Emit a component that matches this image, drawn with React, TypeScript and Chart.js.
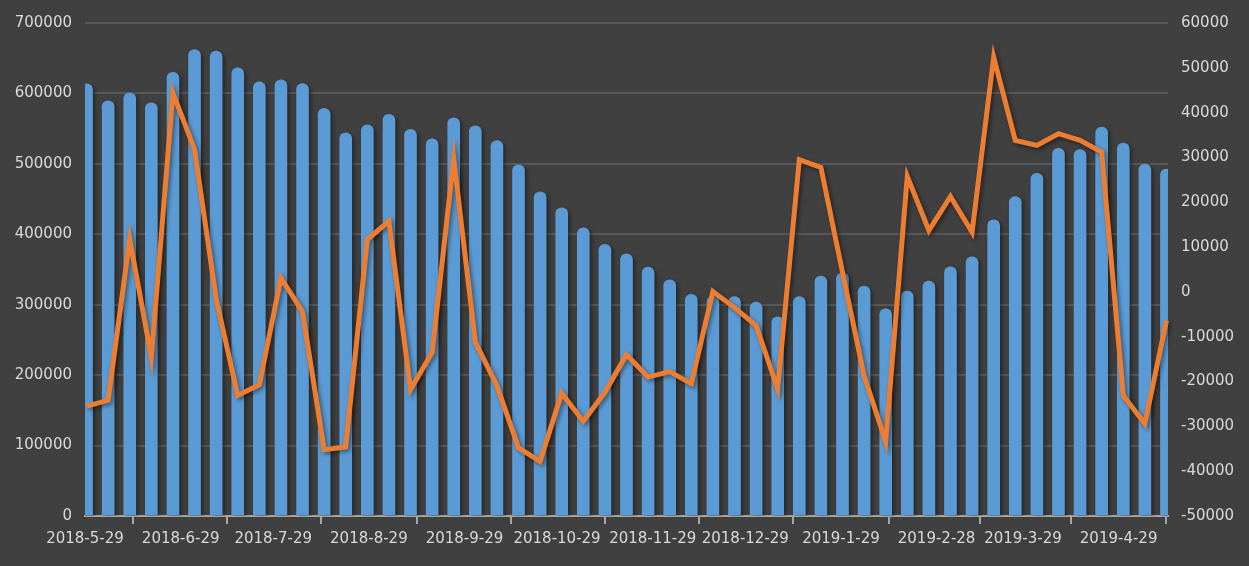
import React, { useEffect, useRef } from "react";
import { Chart, registerables } from "chart.js";

Chart.register(...registerables);

const dates: string[] = [
  "2018-5-29", "2018-6-5", "2018-6-12", "2018-6-19", "2018-6-26",
  "2018-7-3", "2018-7-10", "2018-7-17", "2018-7-24", "2018-7-31",
  "2018-8-7", "2018-8-14", "2018-8-21", "2018-8-28", "2018-9-4",
  "2018-9-11", "2018-9-18", "2018-9-25", "2018-10-2", "2018-10-9",
  "2018-10-16", "2018-10-23", "2018-10-30", "2018-11-6", "2018-11-13",
  "2018-11-20", "2018-11-27", "2018-12-4", "2018-12-11", "2018-12-18",
  "2018-12-25", "2019-1-1", "2019-1-8", "2019-1-15", "2019-1-22",
  "2019-1-29", "2019-2-5", "2019-2-12", "2019-2-19", "2019-2-26",
  "2019-3-5", "2019-3-12", "2019-3-19", "2019-3-26", "2019-4-2",
  "2019-4-9", "2019-4-16", "2019-4-23", "2019-4-30", "2019-5-7",
  "2019-5-14",
];

const barValues: number[] = [
  613700, 589500, 600900, 586700, 630100, 662400, 660000, 636400, 616500, 619300,
  614100, 579000, 544000, 555400, 570500, 549200, 535600, 565400, 554000, 533100,
  498600, 460300, 437600, 409200, 385900, 372300, 353300, 335300, 314900, 312000,
  311700, 303600, 282800, 311700, 340500, 345300, 326300, 294200, 319200, 333400,
  353800, 368000, 420500, 453600, 486700, 522200, 520400, 552100, 529400, 499600,
  492500,
];

const lineValues: number[] = [
  -25500, -24200, 11800, -14600, 44400, 31800, -1500, -23100, -20700, 3100,
  -4400, -35200, -34600, 11700, 15800, -21800, -13500, 29700, -11200, -20900,
  -34800, -37800, -22600, -28900, -22400, -14000, -19000, -17800, -20500, 100,
  -3500, -7500, -21600, 29500, 27800, 4400, -18700, -33400, 25800, 13700,
  21300, 13300, 52400, 33800, 32700, 35300, 33800, 31200, -23100, -29400,
  -6400,
];

const tickLabels: string[] = [
  "2018-5-29", "2018-6-29", "2018-7-29", "2018-8-29", "2018-9-29", "2018-10-29",
  "2018-11-29", "2018-12-29", "2019-1-29", "2019-2-28", "2019-3-29", "2019-4-29",
];
// Excel places the "2-28" month step at the rolled-over Feb 29 (= Mar 1)
const tickDates: string[] = [
  "2018-5-29", "2018-6-29", "2018-7-29", "2018-8-29", "2018-9-29", "2018-10-29",
  "2018-11-29", "2018-12-29", "2019-1-29", "2019-2-29", "2019-3-29", "2019-4-29",
];

const leftMin = 0;
const leftMax = 700000;
const leftStep = 100000;
const rightMin = -50000;
const rightMax = 60000;
const rightStep = 10000;

const DAY = 86400000;
function dayNum(s: string): number {
  const [y, m, d] = s.split("-").map(Number);
  return Date.UTC(y, m - 1, d) / DAY;
}

export default function App() {
  const ref = useRef<HTMLCanvasElement | null>(null);

  useEffect(() => {
    const canvas = ref.current;
    if (!canvas) return;
    const origin = dayNum(dates[0]);
    const xs = dates.map((d) => dayNum(d) - origin + 0.5);
    const xMax = dayNum(dates[dates.length - 1]) - origin + 1;
    const tickPos = tickDates.map((d) => dayNum(d) - origin);
    const labelMap = new Map<number, string>();
    tickPos.forEach((p, i) => labelMap.set(p, tickLabels[i]));

    const font = { family: "'DejaVu Sans', sans-serif", size: 15 };
    const textColor = "#d9d9d9";

    const shadowPlugin = {
      id: "shadow",
      beforeDatasetDraw(chart: any) {
        const ctx = chart.ctx;
        ctx.save();
        ctx.shadowColor = "rgba(0,0,0,0.45)";
        ctx.shadowBlur = 4;
        ctx.shadowOffsetX = 2;
        ctx.shadowOffsetY = 2;
      },
      afterDatasetDraw(chart: any) {
        chart.ctx.restore();
      },
    };

    const bgPlugin = {
      id: "bg",
      beforeDraw(chart: any) {
        const ctx = chart.ctx;
        ctx.save();
        ctx.fillStyle = "#404040";
        ctx.fillRect(0, 0, chart.width, chart.height);
        ctx.restore();
      },
    };

    const chart = new Chart(canvas, {
      type: "bar",
      data: {
        datasets: [
          {
            type: "line",
            label: "line",
            data: xs.map((x, i) => ({ x, y: lineValues[i] })),
            yAxisID: "y1",
            xAxisID: "x",
            borderColor: "#ED7D31",
            backgroundColor: "#ED7D31",
            borderWidth: 5,
            pointRadius: 0,
            tension: 0,
            order: 0,
            clip: false as any,
          } as any,
          {
            type: "bar",
            label: "bar",
            data: xs.map((x, i) => ({ x, y: barValues[i] })),
            yAxisID: "y",
            xAxisID: "x",
            backgroundColor: "#5B9BD5",
            barThickness: 12,
            borderRadius: { topLeft: 6, topRight: 6, bottomLeft: 0, bottomRight: 0 },
            borderSkipped: false,
            order: 1,
            clip: 0,
          } as any,
        ],
      },
      options: {
        responsive: false,
        devicePixelRatio: 1,
        animation: false,
        layout: { padding: { top: 23, left: 0, right: 0, bottom: 0 } },
        plugins: {
          legend: { display: false },
          tooltip: { enabled: false },
        },
        scales: {
          x: {
            type: "linear",
            min: 0,
            max: xMax,
            offset: false,
            afterBuildTicks: (scale: any) => {
              scale.ticks = tickPos.map((v) => ({ value: v }));
            },
            afterFit: (scale: any) => {
              scale.height = 50;
            },
            ticks: {
              autoSkip: false,
              maxRotation: 0,
              minRotation: 0,
              color: textColor,
              font,
              padding: 6,
              callback: (v: any) => labelMap.get(Number(v)) ?? "",
            },
            grid: {
              display: true,
              drawOnChartArea: false,
              drawTicks: true,
              tickLength: 8,
              color: "#a6a6a6",
              lineWidth: 2,
            },
            border: { display: true, color: "#a6a6a6", width: 2 },
          },
          y: {
            type: "linear",
            position: "left",
            min: leftMin,
            max: leftMax,
            afterFit: (scale: any) => {
              scale.width = 85;
            },
            ticks: {
              stepSize: leftStep,
              color: textColor,
              font,
              padding: 13,
              callback: (v: any) => String(v),
            },
            grid: {
              color: "#585858",
              lineWidth: 2,
              drawTicks: false,
            },
            border: { display: false },
          },
          y1: {
            type: "linear",
            position: "right",
            min: rightMin,
            max: rightMax,
            afterFit: (scale: any) => {
              scale.width = 81;
            },
            ticks: {
              stepSize: rightStep,
              color: textColor,
              font,
              padding: 13,
              callback: (v: any) => String(v),
            },
            grid: { drawOnChartArea: false, drawTicks: false },
            border: { display: false },
          },
        },
      },
      plugins: [bgPlugin, shadowPlugin],
    } as any);

    return () => chart.destroy();
  }, []);

  return (
    <div
      style={{
        position: "fixed",
        left: 0,
        top: 0,
        width: 1249,
        height: 566,
        background: "#404040",
      }}
    >
      <canvas ref={ref} width={1249} height={566} style={{ display: "block" }} />
    </div>
  );
}
